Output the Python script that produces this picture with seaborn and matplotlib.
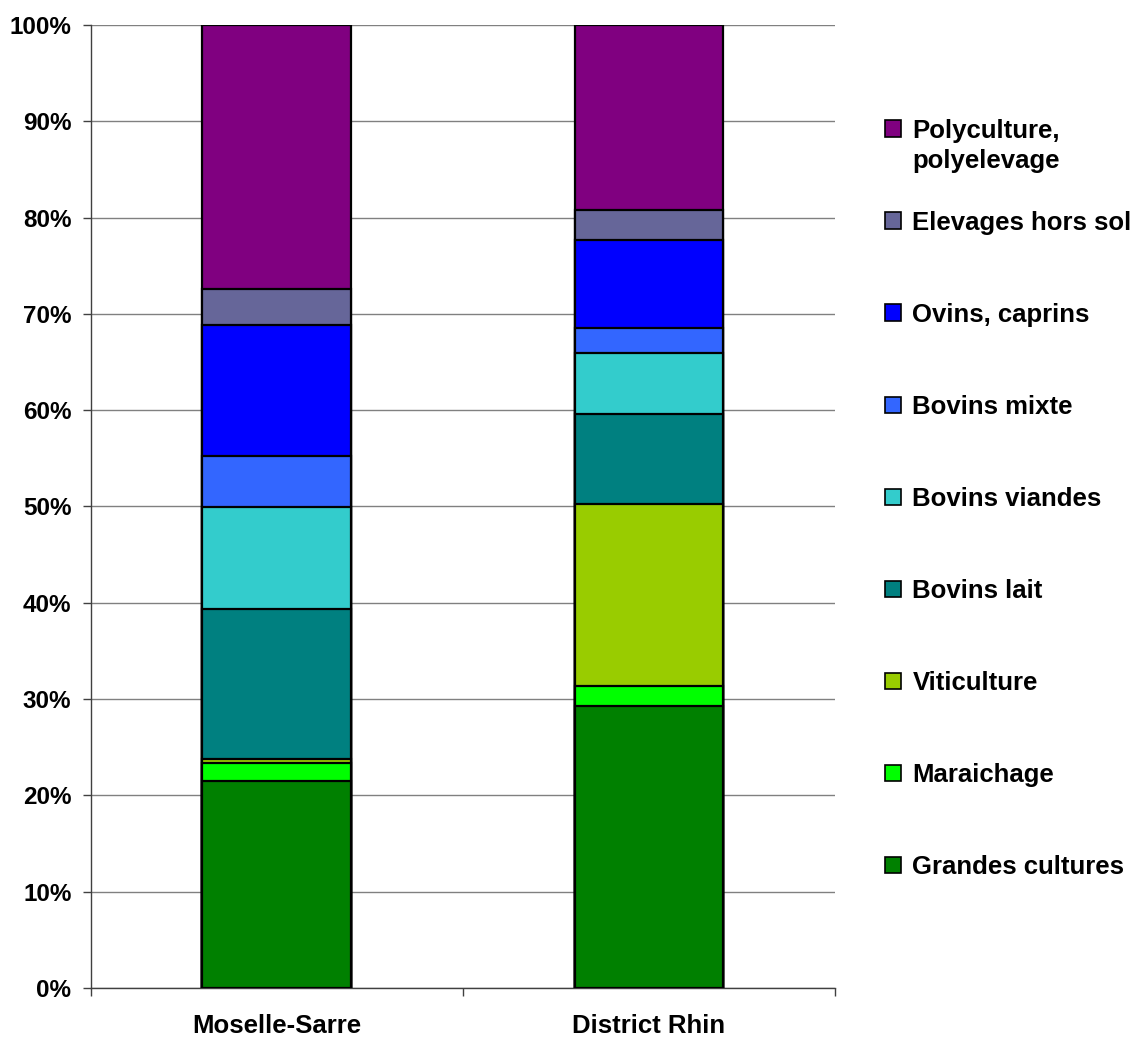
import numpy as np
import pandas as pd
import matplotlib
matplotlib.use("Agg")
import matplotlib.pyplot as plt
import matplotlib.ticker as mticker
from matplotlib.patches import Patch
import seaborn as sns

# categories and shares (%), bottom to top
regions = ["Moselle-Sarre", "District Rhin"]
types = ["Grandes cultures", "Maraichage", "Viticulture", "Bovins lait",
         "Bovins viandes", "Bovins mixte", "Ovins, caprins",
         "Elevages hors sol", "Polyculture,"]
type_suffix = "polyelevage"  # second line of the last legend label
moselle = [21.5, 1.9, 0.4, 15.6, 10.5, 5.3, 13.6, 3.8, 27.4]
rhin = [29.3, 2.1, 18.9, 9.3, 6.3, 2.6, 9.2, 3.1, 19.2]
colors = ["#008000", "#00FF00", "#99CC00", "#008080", "#33CCCC",
          "#3366FF", "#0000FF", "#666699", "#800080"]

df = pd.DataFrame({"type": types, regions[0]: moselle, regions[1]: rhin})
cum = df.set_index("type")[regions].cumsum()

sns.set_style("white")
plt.rcParams["font.family"] = ["Liberation Sans", "DejaVu Sans"]
plt.rcParams["font.weight"] = "bold"
plt.rcParams["text.color"] = "black"
plt.rcParams["xtick.color"] = "black"
plt.rcParams["ytick.color"] = "black"

fig = plt.figure(figsize=(11.36, 10.37), dpi=100)
ax = fig.add_axes([0.080, 0.0473, 0.655, 0.9286])

# stacked bars: draw cumulative totals from top layer down
for t, c in zip(types[::-1], colors[::-1]):
    layer = pd.DataFrame({"region": regions, "val": cum.loc[t].values})
    sns.barplot(data=layer, x="region", y="val", color=c, width=0.4,
                edgecolor="black", linewidth=1.6, saturation=1, ax=ax, zorder=3)

ax.set_xlim(-0.5, 1.5)
ax.set_ylim(0, 100)
ax.set_yticks(np.arange(0, 101, 10))
ax.yaxis.set_major_formatter(mticker.FuncFormatter(lambda v, p: f"{v:.0f}%"))
ax.grid(axis="y", color="#808080", linewidth=1.0, zorder=0)
ax.set_axisbelow(True)
ax.set_xlabel("")
ax.set_ylabel("")

for s in ["top", "right"]:
    ax.spines[s].set_visible(False)
for s in ["left", "bottom"]:
    ax.spines[s].set_color("#404040")
    ax.spines[s].set_linewidth(1.0)

ax.tick_params(axis="y", left=True, direction="out", length=6, width=1,
               color="#404040", pad=8, labelsize=17.5)
ax.tick_params(axis="x", which="major", bottom=False, pad=15, labelsize=18.5)
ax.set_xticks([-0.5, 0.5, 1.5], minor=True)
ax.tick_params(axis="x", which="minor", bottom=True, direction="out",
               length=6, width=1, color="#404040")
for lab in ax.get_xticklabels() + ax.get_yticklabels():
    lab.set_fontweight("bold")

handles = [Patch(facecolor=c, edgecolor="black", linewidth=1.2)
           for c in colors[::-1]]
leg = fig.legend(handles, types[::-1], loc="upper left",
                 bbox_to_anchor=(0.759, 0.908), frameon=False,
                 prop={"size": 18.5, "weight": "bold"},
                 handlelength=0.6, handleheight=0.6, handletextpad=0.45,
                 labelspacing=2.65)

# second line of the first legend label, under "Polyculture,"
fig.canvas.draw()
bb = leg.get_texts()[0].get_window_extent().transformed(fig.transFigure.inverted())
fig.text(bb.x0, bb.y0 - 30 / 1037, type_suffix, fontsize=18.5,
         fontweight="bold", ha="left", va="bottom")

fig.savefig("out.png", dpi=100)
